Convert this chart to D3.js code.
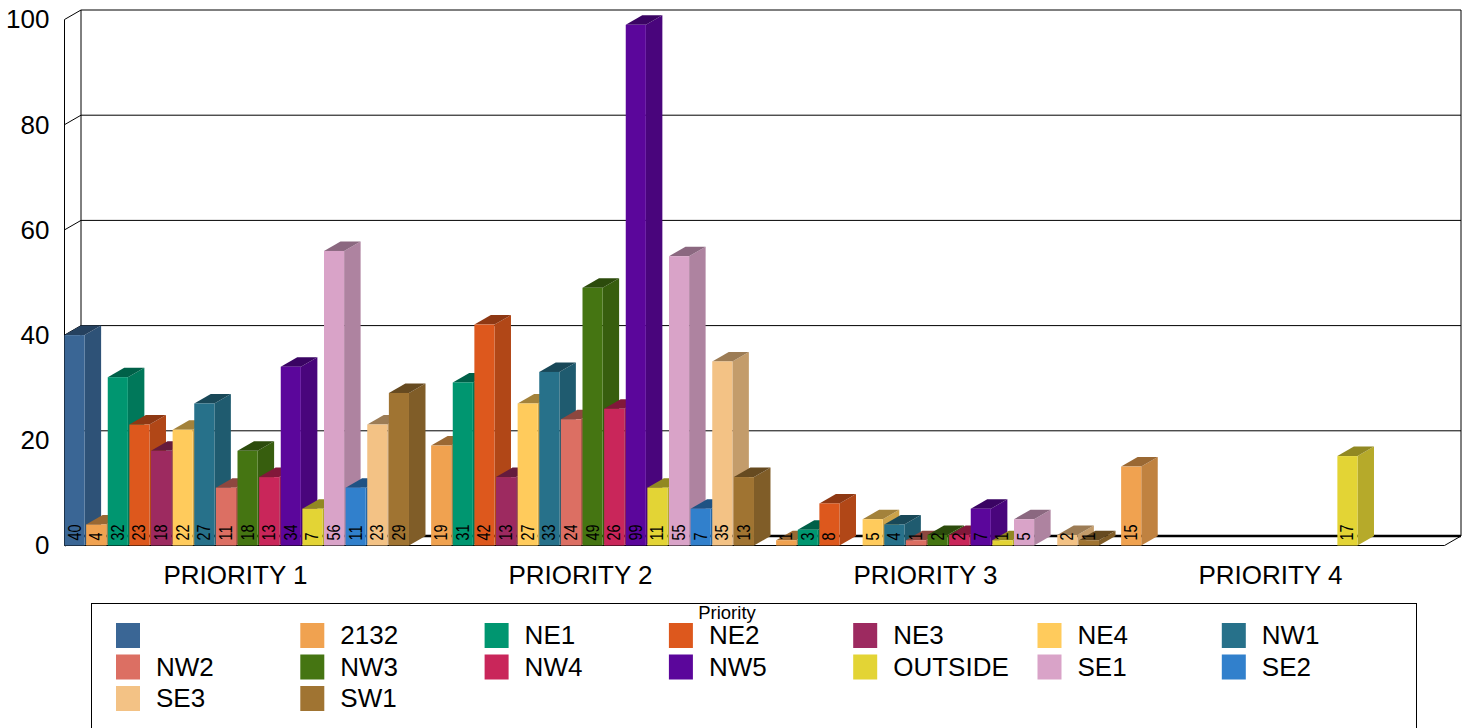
<!DOCTYPE html>
<html>
<head>
<meta charset="utf-8">
<title>Priority</title>
<script src="https://cdn.jsdelivr.net/npm/d3@7"></script>
<style>
    html, body { margin: 0; padding: 0; background: #fff; overflow: hidden; }
    svg { display: block; }
    text { font-family: "Liberation Sans", Arial, sans-serif; fill: #000; }
    .axis path { display: none; }
</style>
</head>
<body>
<div id="chart"></div>
<script>
const priorities = ['PRIORITY 1', 'PRIORITY 2', 'PRIORITY 3', 'PRIORITY 4'];
const areas = ['', '2132', 'NE1', 'NE2', 'NE3', 'NE4', 'NW1', 'NW2', 'NW3', 'NW4', 'NW5', 'OUTSIDE', 'SE1', 'SE2', 'SE3', 'SW1'];
const areaColors = ['#3a6695', '#f0a250', '#009670', '#dd581d', '#9d2a60', '#ffcb5c', '#27718a', '#dc6f63',
    '#457512', '#c9265a', '#5b069b', '#e3d435', '#d9a3c8', '#3180cc', '#f3c285', '#a07432'];

// one value per area, null where the bar is missing
const priority1 = [40, 4, 32, 23, 18, 22, 27, 11, 18, 13, 34, 7, 56, 11, 23, 29];
const priority2 = [null, 19, 31, 42, 13, 27, 33, 24, 49, 26, 99, 11, 55, 7, 35, 13];
const priority3 = [null, 1, 3, 8, null, 5, 4, 1, 2, 2, 7, 1, 5, null, 2, 1];
const priority4 = [null, 15, null, null, null, null, null, null, null, null, null, 17, null, null, null, null];
const yTicks = [0, 20, 40, 60, 80, 100];

const width = 1467, height = 728;
const plot = { left: 64.5, right: 1444.5, top: 19.5, bottom: 545.5 };
const depth = { x: 16.5, y: -9.5 };

const svg = d3.select('#chart').append('svg')
    .attr('width', width)
    .attr('height', height);

const xGroup = d3.scaleBand().domain(priorities).range([plot.left, plot.right]);
// the bars of a group run very slightly past the group's own width
const xArea = d3.scaleBand().domain(d3.range(areas.length))
    .range([0, xGroup.bandwidth() + 1])
    .paddingInner(0.07)
    .paddingOuter(0.035)
    .align(0);
const y = d3.scaleLinear().domain([0, 100]).range([plot.bottom, plot.top]);

// walls and floor
const walls = svg.append('g').attr('fill', 'none').attr('stroke', '#000').attr('stroke-width', 1);
yTicks.forEach(t => {
    walls.append('polyline')
        .attr('points', [[plot.left, y(t)], [plot.left + depth.x, y(t) + depth.y], [plot.right + depth.x, y(t) + depth.y]].join(' '))
        .attr('stroke-width', t === 0 ? 2.5 : 1);
});
walls.append('line').attr('x1', plot.left).attr('x2', plot.left).attr('y1', y(100)).attr('y2', y(0));
walls.append('line').attr('x1', plot.left + depth.x).attr('x2', plot.left + depth.x).attr('y1', y(100) + depth.y).attr('y2', y(0) + depth.y);
walls.append('line').attr('x1', plot.right + depth.x).attr('x2', plot.right + depth.x).attr('y1', y(100) + depth.y).attr('y2', y(0) + depth.y);
walls.append('polyline')
    .attr('points', [[plot.left, y(0)], [plot.right, y(0)], [plot.right + depth.x, y(0) + depth.y]].join(' '));

// bars
const rows = [priority1, priority2, priority3, priority4];
const bars = [];
rows.forEach((row, g) => row.forEach((value, a) => {
    if (value !== null) {
        bars.push({ group: priorities[g], area: a, value: value });
    }
}));
const barX = d => xGroup(d.group) + xArea(d.area);
const bw = xArea.bandwidth();

const barG = svg.selectAll('.bar')
    .data(bars)
    .enter().append('g')
    .attr('class', 'bar');

barG.append('polygon')
    .attr('fill', d => d3.color(areaColors[d.area]).darker(0.62))
    .attr('points', d => {
        const x = barX(d) + bw, t = y(d.value), b = y(0);
        return [[x, t], [x + depth.x, t + depth.y], [x + depth.x, b + depth.y], [x, b]].join(' ');
    });
barG.append('polygon')
    .attr('fill', d => d3.color(areaColors[d.area]).darker(1.25))
    .attr('points', d => {
        const x = barX(d), t = y(d.value);
        return [[x, t], [x + depth.x, t + depth.y], [x + bw + depth.x, t + depth.y], [x + bw, t]].join(' ');
    });
barG.append('rect')
    .attr('x', barX)
    .attr('y', d => y(d.value))
    .attr('width', bw)
    .attr('height', d => y(0) - y(d.value))
    .attr('fill', d => areaColors[d.area]);

// value labels sit on top of all the bars
svg.selectAll('.bar-label')
    .data(bars)
    .enter().append('text')
    .attr('class', 'bar-label')
    .attr('transform', d => `translate(${barX(d) + bw / 2 + 6},${y(0) - 5}) rotate(-90) scale(1.03,1.3)`)
    .style('font-size', '14px')
    .text(d => d.value);

// axes
const yAxis = d3.axisLeft(y).tickValues(yTicks).tickSize(0).tickPadding(15);
svg.append('g')
    .attr('class', 'axis')
    .attr('transform', `translate(${plot.left},0)`)
    .call(yAxis)
    .selectAll('text')
    .style('font-size', '26px');

const xAxis = d3.axisBottom(xGroup).tickSize(0).tickPadding(20);
svg.append('g')
    .attr('class', 'axis')
    .attr('transform', `translate(-1.5,${plot.bottom})`)
    .call(xAxis)
    .selectAll('text')
    .style('font-size', '26px');

// legend
const legend = svg.append('g');
legend.append('rect')
    .attr('x', 91.5)
    .attr('y', 603.5)
    .attr('width', 1325)
    .attr('height', 140)
    .attr('fill', '#fff')
    .attr('stroke', '#000');
legend.append('text')
    .attr('x', 727)
    .attr('y', 619)
    .attr('text-anchor', 'middle')
    .style('font-size', '18.5px')
    .text('Priority');

const legendCols = 7;
const legendX = d3.scaleLinear().domain([0, legendCols]).range([116, 116 + 184.3 * legendCols]);
const legendY = d3.scaleLinear().domain([0, 2]).range([623, 686]);
const legendItem = legend.selectAll('.legend-item')
    .data(areas)
    .enter().append('g')
    .attr('class', 'legend-item')
    .attr('transform', (d, i) => `translate(${legendX(i % legendCols)},${legendY(Math.floor(i / legendCols))})`);
legendItem.append('rect')
    .attr('width', 24)
    .attr('height', 25)
    .attr('fill', (d, i) => areaColors[i]);
legendItem.append('text')
    .attr('x', 40)
    .attr('y', 21)
    .style('font-size', '26px')
    .text(d => d);
</script>
</body>
</html>
